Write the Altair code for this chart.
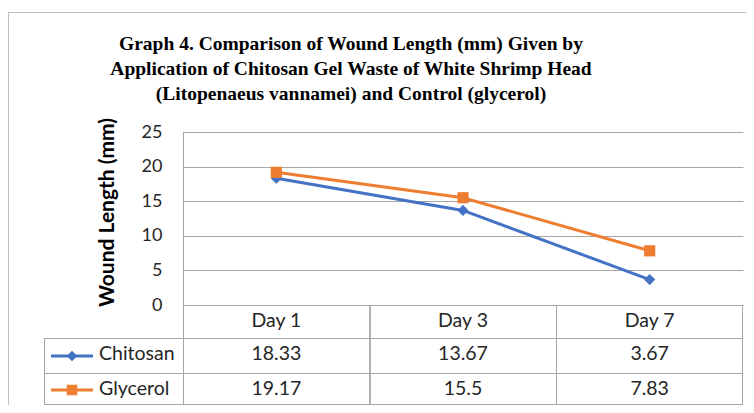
import altair as alt
import pandas as pd

days = ["Day 1", "Day 3", "Day 7"]
chitosan = [18.33, 13.67, 3.67]
glycerol = [19.17, 15.5, 7.83]
series_names = ["Chitosan", "Glycerol"]
series_colors = ["#4472C4", "#ED7D31"]
series_shapes = ["diamond", "square"]
y_ticks = [0, 5, 10, 15, 20, 25]
title_lines = [
    "Graph 4. Comparison of Wound Length (mm) Given by",
    "Application of Chitosan Gel Waste of White Shrimp Head",
    "(Litopenaeus vannamei) and Control (glycerol)",
]

rows = []
for d, c, g in zip(days, chitosan, glycerol):
    rows.append({"Day": d, "series": "Chitosan", "value": c})
    rows.append({"Day": d, "series": "Glycerol", "value": g})
df = pd.DataFrame(rows)
days_df = pd.DataFrame({"Day": days})
leg_df = pd.DataFrame({"series": series_names})
title_df = pd.DataFrame({"t": [0]})

W, H = 560, 173
GRID = "#a6a6a6"
FONT = "Lato"
TXT = "#262626"
TFS = 19.5

xenc = alt.X("Day:N", sort=days, scale=alt.Scale(type="point", padding=0.5), axis=None)
yenc = alt.Y(
    "value:Q",
    scale=alt.Scale(domain=[0, 25], nice=False),
    axis=alt.Axis(
        values=y_ticks, grid=True, gridColor=GRID, gridWidth=1, ticks=False, domain=False,
        labelFont=FONT, labelFontSize=18, labelColor=TXT, labelPadding=21,
        title="Wound Length (mm)", titleFont=FONT, titleFontSize=21, titleFontWeight="bold",
        titleColor="#000000", titleX=-76, titleY=80, titleAlign="center", titleBaseline="middle",
        titleAngle=270,
    ),
)
color = alt.Color("series:N", scale=alt.Scale(domain=series_names, range=series_colors), legend=None)
shape = alt.Shape("series:N", scale=alt.Scale(domain=series_names, range=series_shapes), legend=None)

base = alt.Chart(df)
lines = base.mark_line(strokeWidth=3).encode(x=xenc, y=yenc, color=color)
points = base.mark_point(filled=True, size=125, opacity=1).encode(x=xenc, y=yenc, color=color, shape=shape)

# title as text
title = alt.Chart(title_df).mark_text(
    font="Liberation Serif", fontSize=19.5, fontWeight="bold", color="#000000",
    align="center", baseline="middle", lineHeight=25,
).encode(text=alt.value(title_lines), x=alt.value(168), y=alt.value(-88.5))

# table text
header = alt.Chart(days_df).mark_text(font=FONT, fontSize=TFS, color=TXT, baseline="middle").encode(
    x=xenc, text="Day:N", y=alt.value(189))
val_c = base.transform_filter(alt.datum.series == "Chitosan").mark_text(
    font=FONT, fontSize=TFS, color=TXT, baseline="middle").encode(x=xenc, text="value:Q", y=alt.value(222))
val_g = base.transform_filter(alt.datum.series == "Glycerol").mark_text(
    font=FONT, fontSize=TFS, color=TXT, baseline="middle").encode(x=xenc, text="value:Q", y=alt.value(257))

# legend column
leg_text_c = alt.Chart(leg_df).transform_filter(alt.datum.series == "Chitosan").mark_text(
    font=FONT, fontSize=TFS, color=TXT, align="left", baseline="middle").encode(
    text="series:N", x=alt.value(-84), y=alt.value(222))
leg_text_g = alt.Chart(leg_df).transform_filter(alt.datum.series == "Glycerol").mark_text(
    font=FONT, fontSize=TFS, color=TXT, align="left", baseline="middle").encode(
    text="series:N", x=alt.value(-84), y=alt.value(257))
leg_line_c = alt.Chart(leg_df).transform_filter(alt.datum.series == "Chitosan").mark_rule(
    strokeWidth=3).encode(x=alt.value(-132), x2=alt.value(-90), y=alt.value(224), color=color)
leg_line_g = alt.Chart(leg_df).transform_filter(alt.datum.series == "Glycerol").mark_rule(
    strokeWidth=3).encode(x=alt.value(-132), x2=alt.value(-90), y=alt.value(258), color=color)
leg_pt_c = alt.Chart(leg_df).transform_filter(alt.datum.series == "Chitosan").mark_point(
    filled=True, size=110, opacity=1).encode(x=alt.value(-111), y=alt.value(224), color=color, shape=shape)
leg_pt_g = alt.Chart(leg_df).transform_filter(alt.datum.series == "Glycerol").mark_point(
    filled=True, size=110, opacity=1).encode(x=alt.value(-111), y=alt.value(258), color=color, shape=shape)

# table / frame lines
def hrule(x1, x2, y, col=GRID):
    return alt.Chart(days_df).mark_rule(color=col, strokeWidth=1).encode(
        x=alt.value(x1), x2=alt.value(x2), y=alt.value(y))

def vrule(x, y1, y2, col=GRID):
    return alt.Chart(days_df).mark_rule(color=col, strokeWidth=1).encode(
        x=alt.value(x), y=alt.value(y1), y2=alt.value(y2))

table_lines = [
    hrule(0, W, 173.5),
    hrule(-138.5, W, 206.5),
    hrule(-138.5, W, 241.5),
    hrule(-138.5, W, 272.5),
    vrule(-138.5, 206.5, 272.5),
    vrule(0.5, 0, 272.5),
    vrule(187, 173.5, 272.5),
    vrule(373.5, 173.5, 272.5),
    vrule(W - 0.5, 173.5, 272.5),
    hrule(-175, W + 20, -119.5, "#bfbfbf"),
    vrule(-174.5, -119.5, 280, "#bfbfbf"),
]

chart = alt.layer(
    *table_lines, lines, points, title, header, val_c, val_g,
    leg_line_c, leg_line_g, leg_pt_c, leg_pt_g, leg_text_c, leg_text_g,
).properties(
    width=W, height=H,
    autosize=alt.AutoSizeParams(type="none"),
    padding={"left": 175, "top": 124, "right": 3, "bottom": 100},
    background="white",
).configure_view(stroke=None)

chart.save("out.html", embed_options={"renderer": "svg", "actions": False})
